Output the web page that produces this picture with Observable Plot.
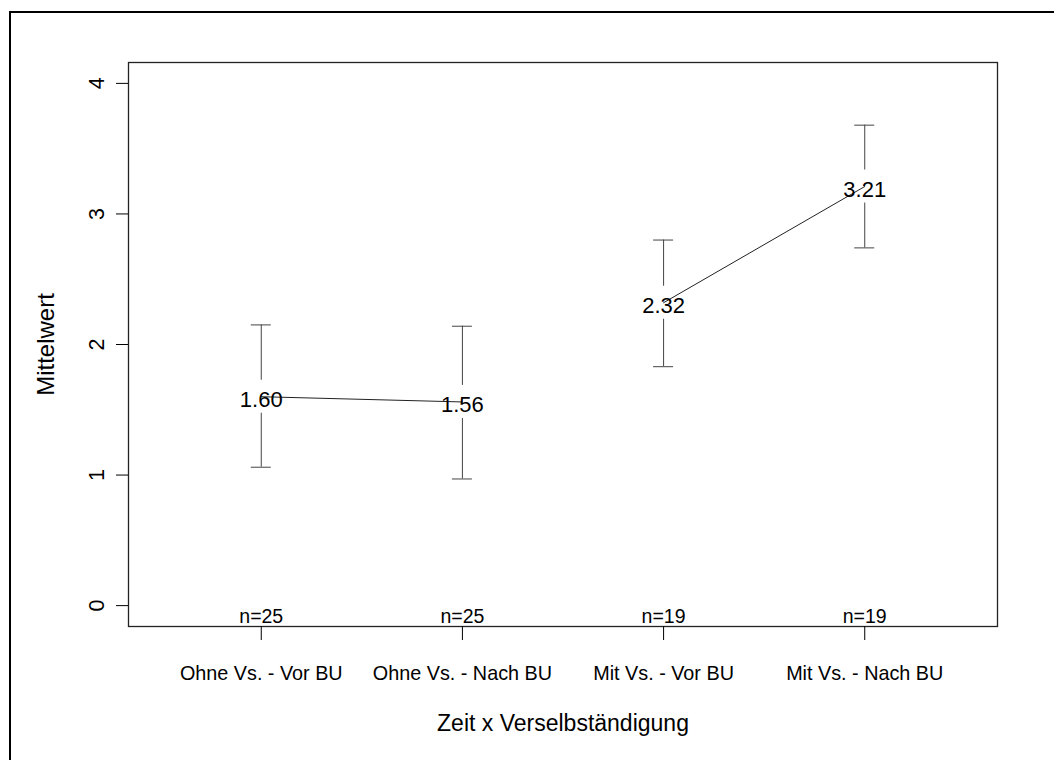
<!DOCTYPE html>
<html>
<head>
<meta charset="utf-8">
<script src="https://cdn.jsdelivr.net/npm/d3@7"></script>
<script src="https://cdn.jsdelivr.net/npm/@observablehq/plot@0.6"></script>
<style>
  html, body { margin: 0; padding: 0; background: #fff; overflow: hidden; width: 1054px; height: 760px; }
  #page { position: relative; width: 1054px; height: 760px; }
  #border { position: absolute; left: 9px; top: 11px; width: 1100px; height: 800px;
            border-top: 2px solid #000; border-left: 2px solid #000; }
  #chart { position: absolute; left: 0; top: 0; }
</style>
</head>
<body>
<div id="page"><div id="border"></div><div id="chart"></div></div>
<script>
// Group means with confidence intervals, per time point and independence group
const groups = ["Ohne Vs. - Vor BU", "Ohne Vs. - Nach BU", "Mit Vs. - Vor BU", "Mit Vs. - Nach BU"];
const series = ["Ohne Vs.", "Ohne Vs.", "Mit Vs.", "Mit Vs."];
const means  = [1.60, 1.56, 2.32, 3.21];
const upper  = [2.15, 2.14, 2.80, 3.68];
const lower  = [1.06, 0.97, 1.83, 2.74];
const counts = [25, 25, 19, 19];
const yTicks = [0, 1, 2, 3, 4];
const xTitle = "Zeit x Verselbständigung";
const yTitle = "Mittelwert";

const rows = groups.map((g, i) => ({
  pos: i + 1, group: g, series: series[i], mean: means[i], upper: upper[i], lower: lower[i], n: counts[i]
}));

const gap = 16.5;     // space left in each error bar around the mean label
const capHalf = 10;   // half width of the error bar caps
const barColor = "#444";

const chart = Plot.plot({
  width: 1054,
  height: 760,
  marginLeft: 128,
  marginRight: 57,
  marginTop: 62,
  marginBottom: 134,
  style: { fontFamily: "'Liberation Sans', Arial, sans-serif", background: "transparent", color: "#000" },
  x: { type: "linear", domain: [0.34, 4.66] },
  y: { domain: [-0.16, 4.16] },
  marks: [
    Plot.frame({ stroke: "#222", strokeWidth: 1.3 }),
    Plot.axisX(rows.map(d => d.pos), {
      tickSize: 14, tickPadding: 25, tickFormat: p => groups[p - 1], fontSize: 19.8, label: null
    }),
    Plot.axisY(yTicks, { tickSize: 12, tickFormat: () => "", label: null }),
    Plot.text(yTicks, {
      y: d => d, text: d => String(d), frameAnchor: "left", rotate: -90,
      textAnchor: "middle", lineAnchor: "bottom", dx: -25, fontSize: 21.5
    }),
    Plot.text(rows, {
      x: "pos", text: d => "n=" + d.n, frameAnchor: "bottom", lineAnchor: "bottom", dy: -4, fontSize: 19.5
    }),
    Plot.line(rows, { x: "pos", y: "mean", z: "series", stroke: "#222", strokeWidth: 1 }),
    Plot.ruleX(rows, { x: "pos", y1: "upper", y2: "mean", insetBottom: gap, stroke: barColor }),
    Plot.ruleX(rows, { x: "pos", y1: "mean", y2: "lower", insetTop: gap, stroke: barColor }),
    Plot.ruleY(rows, { y: "upper", x1: "pos", x2: "pos", insetLeft: -capHalf, insetRight: -capHalf, stroke: barColor }),
    Plot.ruleY(rows, { y: "lower", x1: "pos", x2: "pos", insetLeft: -capHalf, insetRight: -capHalf, stroke: barColor }),
    Plot.text(rows, { x: "pos", y: "mean", text: d => d.mean.toFixed(2), fontSize: 22, dy: 3.5 }),
    Plot.text([xTitle], { frameAnchor: "bottom", lineAnchor: "bottom", dy: 104, fontSize: 23 }),
    Plot.text([yTitle], {
      frameAnchor: "left", rotate: -90, textAnchor: "middle", lineAnchor: "bottom", dx: -75, fontSize: 24
    })
  ]
});

document.getElementById("chart").appendChild(chart);
</script>
</body>
</html>
